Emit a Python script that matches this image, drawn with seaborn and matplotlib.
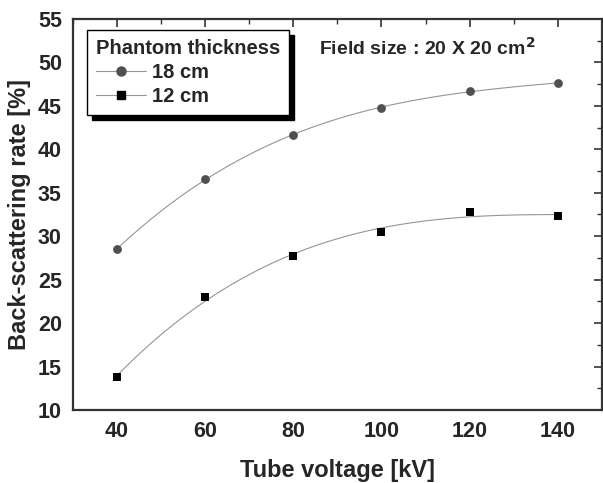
import numpy as np
import pandas as pd
import matplotlib
matplotlib.use('Agg')
import matplotlib.pyplot as plt
from matplotlib.lines import Line2D
from matplotlib.ticker import MultipleLocator
import seaborn as sns

voltage = [40, 60, 80, 100, 120, 140]
rate_18cm = [28.5, 36.6, 41.6, 44.8, 46.7, 47.6]
rate_12cm = [13.8, 23.0, 27.7, 30.5, 32.8, 32.3]

sns.set_style('white')
plt.rcParams['font.family'] = ['Liberation Sans', 'DejaVu Sans']
plt.rcParams['font.weight'] = 'bold'

fig = plt.figure(figsize=(6.03, 4.83), dpi=100)
ax = fig.add_axes([0.121, 0.151, 0.877, 0.810])

df18 = pd.DataFrame({'kV': voltage, 'rate': rate_18cm})
df12 = pd.DataFrame({'kV': voltage, 'rate': rate_12cm})

#fitted curves + points
sns.regplot(data=df18, x='kV', y='rate', order=3, ci=None, truncate=True, ax=ax, marker='o',
            scatter_kws={'color': '#505050', 's': 40, 'alpha': 1, 'zorder': 3, 'linewidths': 0},
            line_kws={'color': '#959595', 'lw': 0.8})
sns.regplot(data=df12, x='kV', y='rate', order=3, ci=None, truncate=True, ax=ax, marker='s',
            scatter_kws={'color': 'black', 's': 32, 'alpha': 1, 'zorder': 3, 'linewidths': 0},
            line_kws={'color': '#959595', 'lw': 0.8})

ax.set_xlim(30, 150)
ax.set_ylim(10, 55)
ax.xaxis.set_major_locator(MultipleLocator(20))
ax.xaxis.set_minor_locator(MultipleLocator(10))
ax.yaxis.set_major_locator(MultipleLocator(5))
ax.yaxis.set_minor_locator(MultipleLocator(2.5))
ax.tick_params(which='both', direction='in', top=True, right=True, labeltop=False, labelright=False,
               color='#333333')
ax.tick_params(which='major', length=6, width=1.2, labelsize=15.5, pad=8)
ax.tick_params(which='minor', length=3.5, width=1.0)
for sp in ax.spines.values():
    sp.set_color('#333333')
    sp.set_linewidth(1.6)

ax.set_xlabel('Tube voltage [kV]', fontsize=17, fontweight='bold', labelpad=12)
ax.set_ylabel('Back-scattering rate [%]', fontsize=17, fontweight='bold', labelpad=5)

handles = [
    Line2D([], [], color='#959595', lw=0.8, marker='o', markersize=6.5, markerfacecolor='#505050',
           markeredgecolor='#505050'),
    Line2D([], [], color='#959595', lw=0.8, marker='s', markersize=5.5, markerfacecolor='black',
           markeredgecolor='black'),
]
leg = ax.legend(handles, ['18 cm', '12 cm'], title='Phantom thickness', loc='upper left',
                bbox_to_anchor=(0.026, 0.972), fancybox=False, framealpha=1, edgecolor='black',
                shadow={'ox': 3.7, 'oy': -3.7, 'color': 'black', 'alpha': 1},
                prop={'weight': 'bold', 'size': 14.5}, title_fontproperties={'weight': 'bold', 'size': 14.5},
                handlelength=2.5, handletextpad=0.3, labelspacing=0.25, borderpad=0.45,
                alignment='left', borderaxespad=0)
leg.get_frame().set_linewidth(1.0)

ax.text(0.465, 0.926, 'Field size : 20 X 20 cm$^\\mathbf{2}$', transform=ax.transAxes,
        fontsize=14, fontweight='bold', ha='left', va='center')

fig.savefig('out.png', dpi=100)
